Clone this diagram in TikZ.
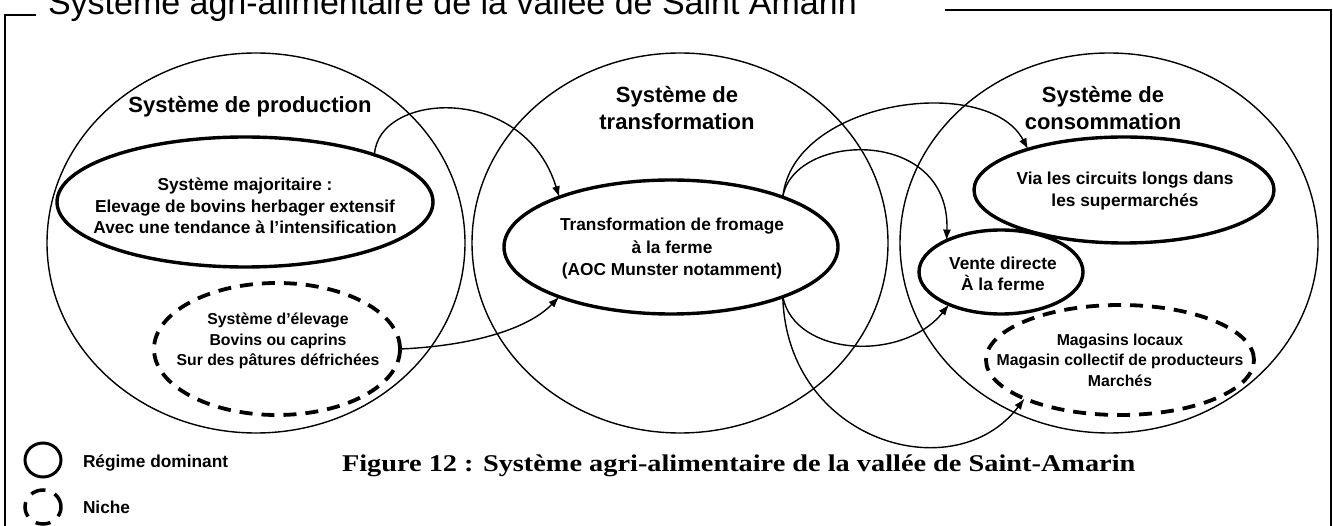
\documentclass[tikz,border=0pt]{standalone}
\usepackage{graphicx}
\usepackage{fontspec}
\setmainfont{Liberation Sans}
\newfontfamily\capfont{Liberation Serif}
\usetikzlibrary{shapes.geometric,arrows.meta}
\begin{document}
\begin{tikzpicture}[x=1pt,y=-1pt,
  every node/.style={inner sep=0pt, outer sep=0pt},
  bigcirc/.style={ellipse, draw, line width=1.4pt, minimum width=418pt, minimum height=380pt},
  regime/.style={ellipse, draw, line width=3.4pt},
  niche/.style={ellipse, draw, line width=3.8pt, dash pattern=on 13pt off 9pt},
  lbl/.style={font=\bfseries\fontsize{17.3}{21.5}\selectfont, align=center},
  small/.style={font=\bfseries\fontsize{15.8}{20.5}\selectfont, align=center},
  head/.style={font=\bfseries\fontsize{22}{27}\selectfont, align=center},
  flow/.style={line width=1.4pt, -{Latex[length=11pt,width=8pt]}},
  frame/.style={line width=1.5pt}]
\useasboundingbox (0,0) rectangle (1333,526);
\clip (0,0) rectangle (1333,526);

% frame and title
\coordinate (f1) at (36,15);
\coordinate (f2) at (5,15);
\coordinate (f3) at (5,530);
\coordinate (f4) at (945,10);
\coordinate (f5) at (1331,10);
\coordinate (f6) at (1331,530);
\draw[frame] (f1) -- (f2) -- (f3);
\draw[frame] (f4) -- (f5) -- (f6);
\node[anchor=base west, font=\fontsize{34}{40}\selectfont] (title) at (48,15)
  {Système agri-alimentaire de la vallée de Saint Amarin};

% systems
\node[bigcirc] (prod) at (256,243) {};
\node[bigcirc, minimum width=416pt] (trans) at (680,243) {};
\node[bigcirc] (cons) at (1109,243) {};

\node[head] (hprod) at (250,107) {Système de production};
\node[head] (htrans) at (677,108) {Système de\\transformation};
\node[head] (hcons) at (1103,108) {Système de\\consommation};

% inner ellipses
\node[regime, minimum width=376pt, minimum height=130pt] (maj) at (245,202) {};
\node[niche, minimum width=246pt, minimum height=132pt] (nprod) at (277,349) {};
\node[regime, minimum width=334pt, minimum height=134pt] (tr) at (671,247) {};
\node[regime, minimum width=300pt, minimum height=106pt] (sup) at (1124,190) {};
\node[regime, minimum width=164pt, minimum height=84pt] (vente) at (1001,272) {};
\node[niche, minimum width=268pt, minimum height=110pt] (mag) at (1120,360) {};

\node[lbl] (tmaj) at (245,206) {Système majoritaire :\\Elevage de bovins herbager extensif\\Avec une tendance à l'intensification};
\node[small] (tnprod) at (278,341) {Système d'élevage\\Bovins ou caprins\\Sur des pâtures défrichées};
\node[lbl, font=\bfseries\fontsize{17.3}{22.5}\selectfont] (ttr) at (672,249) {Transformation de fromage\\à la ferme\\(AOC Munster notamment)};
\node[lbl] (tsup) at (1125,191) {Via les circuits longs dans\\les supermarchés};
\node[lbl] (tvente) at (1003,274) {Vente directe\\À la ferme};
\node[small] (tmag) at (1120,360) {Magasins locaux\\Magasin collectif de producteurs\\Marchés};

% flows
\draw[flow] (maj.20) .. controls +(3,-63) and +(-35,-115) .. (tr.156);
\draw[flow] (nprod.east) .. controls +(70,-3) and +(-32,33) .. (tr.204);
\draw[flow] (tr.24) .. controls +(10,-98) and +(-40,-76) .. (sup.157);
\draw[flow] (tr.24) .. controls +(10,-65) and +(4,-115) .. (vente.150);
\draw[flow] (tr.-24) .. controls +(12,60) and +(-46,58) .. (vente.212);
\draw[flow] (tr.-24) .. controls +(4,145) and +(-70,92) .. (mag.202);

% legend
\node[regime, line width=3pt, minimum width=36pt, minimum height=34pt] (lg1) at (43,460) {};
\node[niche, line width=3.5pt, minimum width=36pt, minimum height=34pt, dash pattern=on 15pt off 10pt] (lg2) at (43,507) {};
\node[lbl, anchor=west] (lt1) at (83,463) {Régime dominant};
\node[lbl, anchor=west] (lt2) at (83,507) {Niche};

% caption
\node[anchor=base west, font=\capfont\bfseries\fontsize{24}{28}\selectfont] (cap) at (342,471)
  {\scalebox{1.18}[1]{Figure 12 : Système agri-alimentaire de la vallée de Saint-Amarin}};
\end{tikzpicture}
\end{document}
